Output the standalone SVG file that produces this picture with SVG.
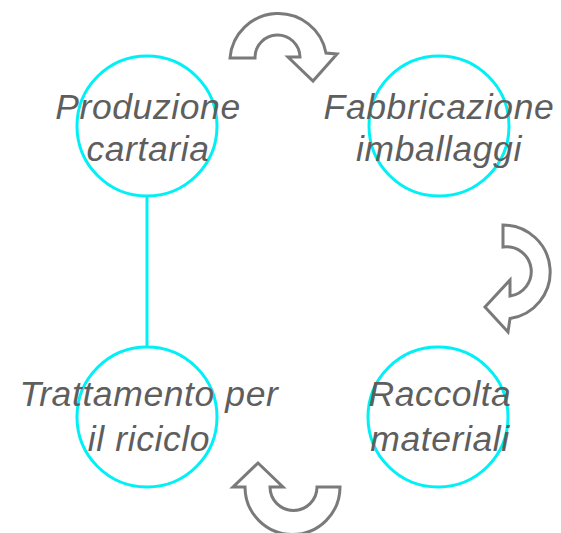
<svg xmlns="http://www.w3.org/2000/svg" width="561" height="533" viewBox="0 0 561 533">
<style>
.node circle{fill:none;stroke:#00f0f5;stroke-width:3}
.lbl{font-family:"Liberation Sans",Arial,sans-serif;font-style:italic;font-size:35.5px;letter-spacing:0.6px;fill:#5e5e5e;text-anchor:middle}
.arr{fill:#fff;stroke:#7a7a7a;stroke-width:3;stroke-linejoin:miter}
.conn{stroke:#00f0f5;stroke-width:3;fill:none}
</style>
<rect width="561" height="533" fill="#fff"/>
<g id="connectors">
<line class="conn" x1="147" y1="197" x2="147" y2="347"/>
<path class="arr" d="M230,58 A48.5,48.5 0 0 1 326,53 L337,54 L313,81 L288,57 L300,57 A22.5,22.5 0 0 0 255,58 Z"/>
<path class="arr" d="M503,225 A47,47 0 0 1 510,318.5 L508,332 L485,307 L510,280 L510,296 A24.5,24.5 0 0 0 503,247 Z"/>
<path class="arr" d="M340,487 A47.5,47.5 0 0 1 245,487 L233,487 L258,463 L283,487 L270,487 A23.5,23.5 0 0 0 317,487 Z"/>
</g>
<g id="node-produzione" class="node">
<circle cx="147" cy="126" r="70"/>
<text class="lbl" x="148" y="119">Produzione</text>
<text class="lbl" x="148" y="161">cartaria</text>
</g>
<g id="node-fabbricazione" class="node">
<circle cx="439" cy="126" r="70"/>
<text class="lbl" x="439" y="119">Fabbricazione</text>
<text class="lbl" x="439" y="161">imballaggi</text>
</g>
<g id="node-raccolta" class="node">
<circle cx="438" cy="417" r="70"/>
<text class="lbl" x="440" y="406">Raccolta</text>
<text class="lbl" x="440" y="451">materiali</text>
</g>
<g id="node-trattamento" class="node">
<circle cx="147" cy="417" r="70"/>
<text class="lbl" x="149" y="406">Trattamento per</text>
<text class="lbl" x="149" y="451">il riciclo</text>
</g>
</svg>
